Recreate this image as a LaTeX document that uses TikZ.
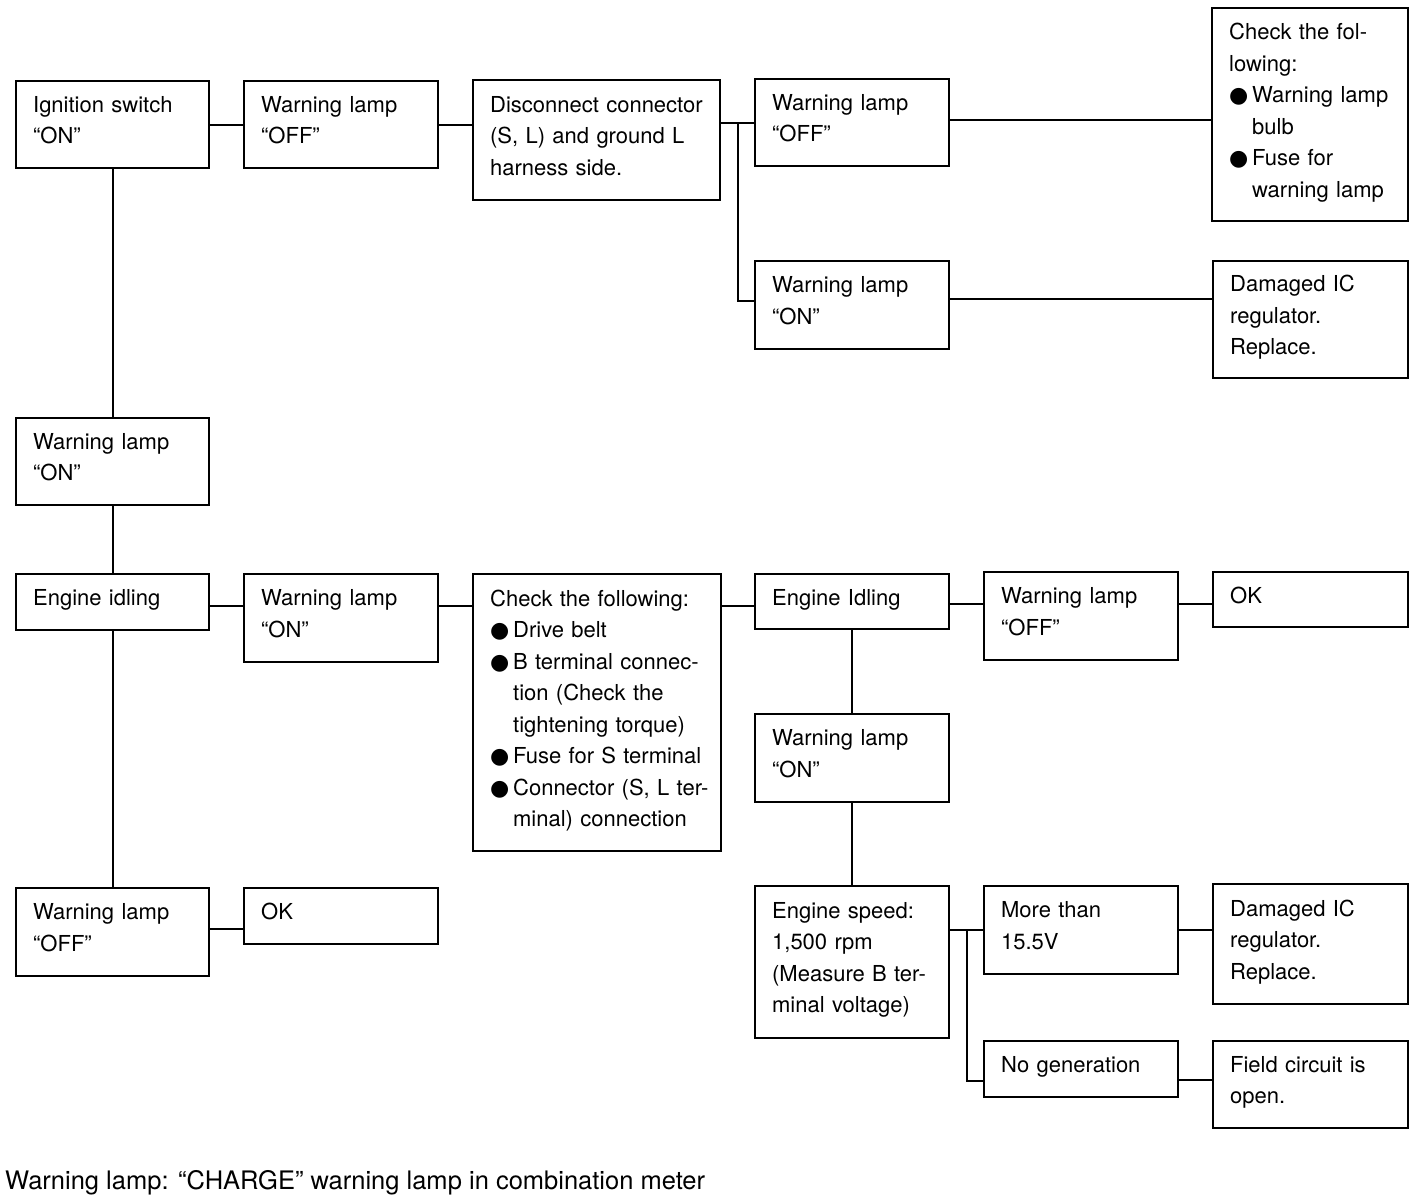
\documentclass[tikz,border=0pt]{standalone}
\usepackage{fontspec}
\setmainfont{TeX Gyre Heros}
\newfontfamily\djv{DejaVu Sans}
\usetikzlibrary{calc}
\newcommand{\bul}{\makebox[23pt][l]{\djv ●}}
\newcommand{\ind}{\hspace*{23pt}}
\newcommand{\lowdp}{\rule[-9pt]{0pt}{1pt}}
\tikzset{
  box/.style={draw, line width=2.3pt, align=left, anchor=north west,
    inner xsep=17pt, inner ysep=0pt, font=\fontsize{22}{31.5}\selectfont,
    execute at end node=\lowdp},
  conn/.style={line width=2.3pt}
}
\begin{document}
\begin{tikzpicture}[x=1pt,y=-1pt]
\useasboundingbox (0,0) rectangle (1424,1200);
\node[box, text width=159pt, minimum height=87pt] (b1) at (15,80) {Ignition switch\\“ON”};
\node[box, text width=160pt, minimum height=87pt] (b2) at (243,80) {Warning lamp\\“OFF”};
\node[box, text width=213pt, minimum height=120pt] (b3) at (472,79) {Disconnect connector\\(S, L) and ground L\\harness side.};
\node[box, text width=160pt, minimum height=87pt] (b4) at (754,78) {Warning lamp\\“OFF”};
\node[box, text width=162pt, minimum height=213pt] (b5) at (1211,7) {Check the fol-\\lowing:\\\bul Warning lamp\\\ind bulb\\\bul Fuse for\\\ind warning lamp};
\node[box, text width=160pt, minimum height=88pt] (b6) at (754,260) {Warning lamp\\“ON”};
\node[box, text width=161pt, minimum height=117pt] (b7) at (1212,260) {Damaged IC\\regulator.\\Replace.};
\node[box, text width=159pt, minimum height=87pt] (b8) at (15,417) {Warning lamp\\“ON”};
\node[box, text width=159pt, minimum height=56pt] (b9) at (15,573) {Engine idling};
\node[box, text width=160pt, minimum height=88pt] (b10) at (243,573) {Warning lamp\\“ON”};
\node[box, text width=214pt, minimum height=277pt] (b11) at (472,573) {Check the following:\\\bul Drive belt\\\mbox{\bul B terminal connec-}\\\ind tion (Check the\\\ind tightening torque)\\\mbox{\bul Fuse for S terminal}\\\mbox{\bul Connector (S, L ter-}\\\ind minal) connection};
\node[box, text width=160pt, minimum height=55pt] (b12) at (754,573) {Engine Idling};
\node[box, text width=160pt, minimum height=88pt] (b13) at (983,571) {Warning lamp\\“OFF”};
\node[box, text width=161pt, minimum height=55pt] (b14) at (1212,571) {OK};
\node[box, text width=160pt, minimum height=88pt] (b15) at (754,713) {Warning lamp\\“ON”};
\node[box, text width=159pt, minimum height=88pt] (b16) at (15,887) {Warning lamp\\“OFF”};
\node[box, text width=160pt, minimum height=56pt] (b17) at (243,887) {OK};
\node[box, text width=160pt, minimum height=152pt] (b18) at (754,885) {Engine speed:\\1,500 rpm\\\mbox{(Measure B ter-}\\minal voltage)};
\node[box, text width=160pt, minimum height=88pt] (b19) at (983,885) {More than\\15.5V};
\node[box, text width=161pt, minimum height=120pt] (b20) at (1212,883) {Damaged IC\\regulator.\\Replace.};
\node[box, text width=160pt, minimum height=56pt] (b21) at (983,1040) {No generation};
\node[box, text width=161pt, minimum height=87pt] (b22) at (1212,1040) {Field circuit is\\open.};
\node[anchor=base west, inner sep=0pt, font=\fontsize{25.5}{32}\selectfont] (note) at (5,1189) {Warning lamp: “CHARGE” warning lamp in combination meter};
% connectors
\coordinate (f1) at ($(b3.east)!0.5!(b4.west)$);
\coordinate (f2) at ($(b18.east)!0.5!(b19.west)$);
\draw[conn] (b1.east) -- (b1.east -| b2.west);
\draw[conn] (b2.east) -- (b2.east -| b3.west);
\draw[conn] (b4.west -| b3.east) -- (b4.west);
\draw[conn] (f1 |- b4.west) |- ([yshift=4pt]b6.west);
\draw[conn] ([yshift=3pt]b4.east) -- ([yshift=3pt]b4.east -| b5.west);
\draw[conn] ([yshift=6pt]b6.east) -- ([yshift=6pt]b6.east -| b7.west);
\draw[conn] (b1.south) -- (b8.north);
\draw[conn] (b8.south) -- (b9.north);
\draw[conn] (b9.south) -- (b16.north);
\draw[conn] ([yshift=-4pt]b9.east) -- ([yshift=-4pt]b9.east -| b10.west);
\draw[conn] ([yshift=-4pt]b9.east -| b10.east) -- ([yshift=-4pt]b9.east -| b11.west);
\draw[conn] ([yshift=-4pt]b12.west -| b11.east) -- ([yshift=-4pt]b12.west);
\draw[conn] ([yshift=-2pt]b12.east) -- ([yshift=-2pt]b12.east -| b13.west);
\draw[conn] ([yshift=-2pt]b12.east -| b13.east) -- ([yshift=-2pt]b12.east -| b14.west);
\draw[conn] (b12.south) -- (b15.north);
\draw[conn] (b15.south) -- (b18.north);
\draw[conn] ([yshift=3pt]b16.east) -- ([yshift=3pt]b16.east -| b17.west);
\draw[conn] (b19.west -| b18.east) -- (b19.west);
\draw[conn] (f2 |- b19.west) |- ([yshift=-12pt]b21.west);
\draw[conn] (b19.east) -- (b19.east -| b20.west);
\draw[conn] ([yshift=-11pt]b21.east) -- ([yshift=-11pt]b21.east -| b22.west);
\end{tikzpicture}
\end{document}
